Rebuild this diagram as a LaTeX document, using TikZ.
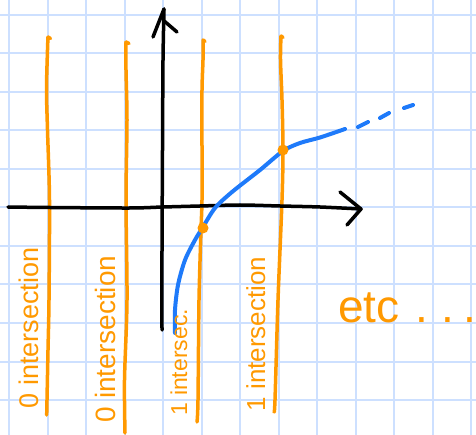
\documentclass[tikz,border=0pt]{standalone}
\usepackage{fontspec}
\setmainfont{Liberation Sans}
\definecolor{gridblue}{RGB}{205,224,255}
\definecolor{ora}{RGB}{255,153,0}
\definecolor{blu}{RGB}{30,122,250}
\begin{document}
\begin{tikzpicture}[x=1pt,y=-1pt, line cap=round, line join=round,
  gridline/.style={draw=gridblue, line width=2pt},
  orangeline/.style={draw=ora, line width=3.5pt},
  axisline/.style={draw=black, line width=3.5pt},
  curveline/.style={draw=blu, line width=4pt},
  lbl/.style={text=ora, inner sep=0pt, rotate=90, anchor=base}]
\useasboundingbox (0,0) rectangle (476,435);
\fill[white] (0,0) rectangle (476,435);
% grid
\foreach \i in {0,...,12} \draw[gridline] ({9+38.5*\i},0) -- ({9+38.5*\i},435);
\foreach \j in {0,...,11} \draw[gridline] (0,{15+38.5*\j}) -- (476,{15+38.5*\j});
% orange vertical lines
\draw[orangeline] (50.5,38.5) -- (48,37) plot[smooth] coordinates {(48,37) (47.5,50) (46.5,90) (47.5,130) (49.5,200) (49,300) (48,350) (47,400) (46.7,415)};
\draw[orangeline] (129,43.5) -- (126,42) plot[smooth] coordinates {(126,42) (126,70) (127,120) (126,200) (127,300) (124.5,380) (125,433)};
\draw[orangeline] (205,41.5) -- (203,40) plot[smooth] coordinates {(203,40) (203,60) (202,90) (202,150) (202,200) (201,230) (199,300) (198,400) (197,422)};
\draw[orangeline] (283,37.5) -- (281,36) plot[smooth] coordinates {(281,36) (280.5,60) (282,100) (283,150) (282,200) (278,300) (275,400) (274,412)};
% axes
\draw[axisline] plot[smooth] coordinates {(8,207) (50,207.5) (130,208) (163,207) (200,206) (240,205) (280,206) (320,207) (361,209)};
\draw[axisline] (340,192) -- (361,209) -- (347,225);
\draw[axisline] plot[smooth] coordinates {(162,330) (162,250) (162.5,150) (163,60) (164,9)};
\draw[axisline] (153,37) -- (164,9);
\draw[axisline] (163,20) -- (177,32);
% blue curve
\draw[curveline] plot[smooth] coordinates {(175,333) (175,310) (178,285) (185,260) (195,240) (203,227) (215,208) (232,192) (260,170) (283,151) (300,143) (320,137.5) (345,129)};
\draw[curveline] (358,127) -- (368,122);
\draw[curveline] (380,118) -- (389,113);
\draw[curveline] (404,108) -- (413,105);
% intersection dots
\fill[ora] (203,228) circle (5.5);
\fill[ora] (283,150) circle (5.5);
% labels
\node[lbl, font=\fontsize{27}{27}\selectfont] (t1) at (38,328) {0 intersection};
\node[lbl, font=\fontsize{28}{28}\selectfont] (t2) at (115,339) {0 intersection};
\node[lbl, font=\fontsize{23}{23}\selectfont] (t3) at (187,362) {1 intersec.};
\node[lbl, font=\fontsize{26}{26}\selectfont] (t4) at (265,334) {1 intersection};
\node[text=ora, inner sep=0pt, anchor=base west, font=\fontsize{46}{46}\selectfont] (etc) at (338,322) {etc\hspace{16pt}.\hspace{13pt}.\hspace{9pt}.};
\end{tikzpicture}
\end{document}
